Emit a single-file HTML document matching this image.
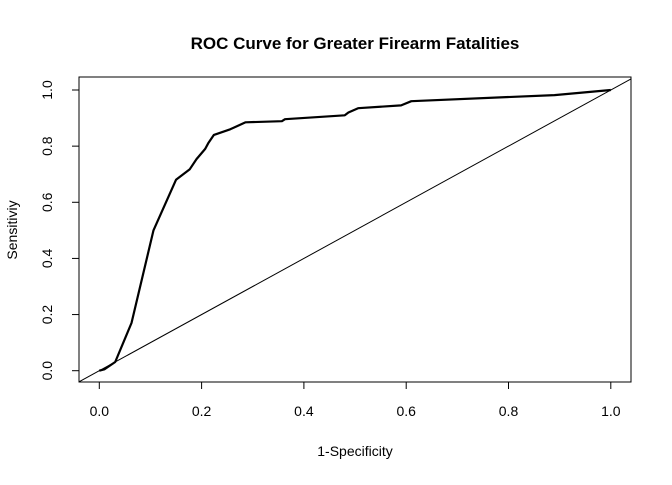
<!DOCTYPE html>
<html><head><meta charset="utf-8"><style>
body{margin:0;background:#fff}
svg text{font-family:"Liberation Sans",Arial,sans-serif;fill:#000}
</style></head><body>
<svg id="chart" width="672" height="480" viewBox="0 0 672 480" xmlns="http://www.w3.org/2000/svg">
<text x="355" y="49" text-anchor="middle" font-size="17" font-weight="bold">ROC Curve for Greater Firearm Fatalities</text>
<rect x="79" y="77" width="552" height="305" fill="none" stroke="#000" stroke-width="1"/>
<text x="355" y="456" text-anchor="middle" font-size="14">1-Specificity</text>
<text transform="translate(17,230) rotate(-90)" text-anchor="middle" font-size="14">Sensitiviy</text>
<g id="axes"></g>
<defs><clipPath id="clip"><rect x="79" y="77" width="552" height="305"/></clipPath></defs>
<g id="marks" clip-path="url(#clip)"></g>
</svg>
<script>
const fprValues=[0,0.01,0.031,0.063,0.106,0.15,0.177,0.19,0.207,0.213,0.224,0.256,0.286,0.357,0.363,0.48,0.487,0.506,0.59,0.61,0.89,1];
const tprValues=[0,0.005,0.031,0.17,0.50,0.68,0.718,0.754,0.79,0.81,0.84,0.86,0.885,0.889,0.896,0.91,0.92,0.935,0.945,0.96,0.982,1];
const xTicks=[0,0.2,0.4,0.6,0.8,1.0];
const yTicks=[0,0.2,0.4,0.6,0.8,1.0];
const xTickLabels=["0.0","0.2","0.4","0.6","0.8","1.0"];
const yTickLabels=["0.0","0.2","0.4","0.6","0.8","1.0"];
const sx=v=>99.3+v*511.5;
const sy=v=>370.7-v*280.7;
const NS="http://www.w3.org/2000/svg";
const axes=document.getElementById('axes'),marks=document.getElementById('marks');
function mk(tag,attrs,parent){const e=document.createElementNS(NS,tag);for(const k in attrs)e.setAttribute(k,attrs[k]);parent.appendChild(e);return e;}
xTicks.forEach((t,i)=>{
 const l=mk('line',{x1:sx(t),x2:sx(t),y1:382,y2:389,stroke:'#000'},axes);
 
 
 const tx=mk('text',{x:sx(t),y:416,'text-anchor':'middle','font-size':'14'},axes);
 tx.textContent=xTickLabels[i];
 
 
});
mk('line',{x1:sx(0),x2:sx(1),y1:382,y2:382,stroke:'#000'},axes);
yTicks.forEach((t,i)=>{
 const l=mk('line',{x1:72,x2:79,y1:sy(t),y2:sy(t),stroke:'#000'},axes);
 
 
 const tx=mk('text',{transform:`translate(52,${sy(t)}) rotate(-90)`,'text-anchor':'middle','font-size':'14'},axes);
 tx.textContent=yTickLabels[i];
 
 
});
const d=mk('line',{x1:sx(-0.1),y1:sy(-0.1),x2:sx(1.1),y2:sy(1.1),stroke:'#000','stroke-width':'1'},marks);


const pts=fprValues.map((v,i)=>sx(v).toFixed(1)+','+sy(tprValues[i]).toFixed(1)).join(' ');
const c=mk('polyline',{points:pts,fill:'none',stroke:'#000','stroke-width':'2.2','stroke-linejoin':'round'},marks);


</script>
</body></html>
